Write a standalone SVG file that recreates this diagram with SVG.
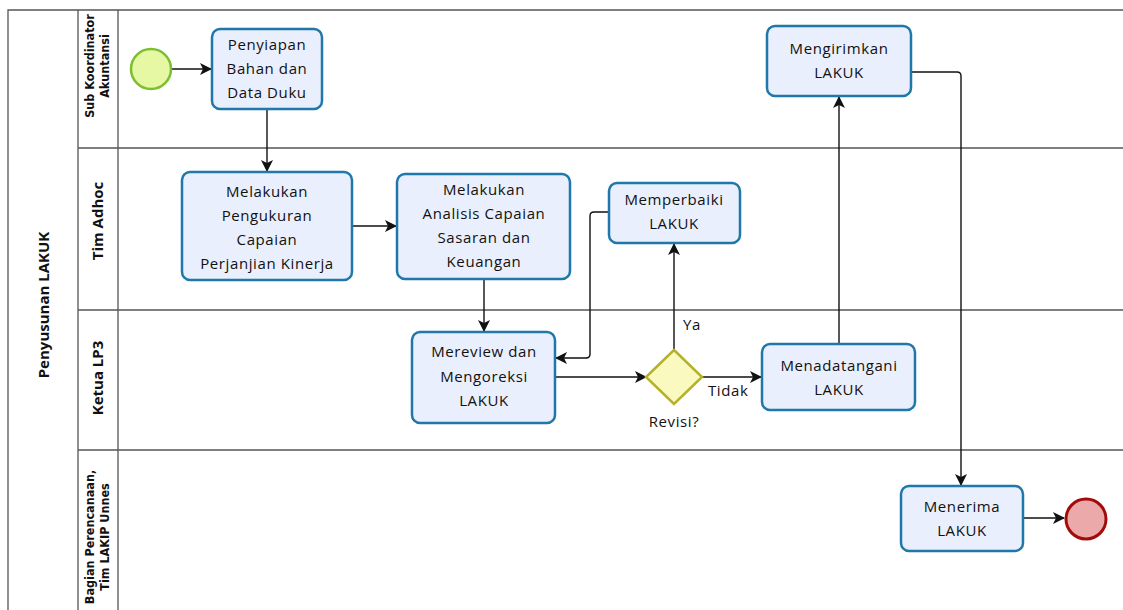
<svg xmlns="http://www.w3.org/2000/svg" width="1123" height="610" viewBox="0 0 1123 610">
<style>
.lane{fill:none;stroke:#555;stroke-width:1.3}
.task{fill:#eaeffd;stroke:#1f78a9;stroke-width:2.5}
.t{font-family:"Open Sans","Noto Sans",sans-serif;font-size:15px;letter-spacing:0.6px;fill:#111;text-anchor:middle}
.lbl{font-family:"Open Sans","Noto Sans",sans-serif;font-size:15px;letter-spacing:0.6px;fill:#111}
.lh{font-family:"DejaVu Sans Condensed","DejaVu Sans",sans-serif;font-stretch:condensed;font-weight:bold;font-size:12.5px;fill:#111;text-anchor:middle}
.ph{font-family:"Open Sans","Noto Sans",sans-serif;font-weight:bold;font-size:15px;fill:#111;text-anchor:middle}
.c{fill:none;stroke:#111;stroke-width:1.4}
</style>
<defs>
<marker id="arr" viewBox="0 0 12 12" refX="11" refY="6" markerWidth="12" markerHeight="12" markerUnits="userSpaceOnUse" orient="auto">
<path d="M0,0 L12,6 L0,12 L3,6 Z" fill="#111"/>
</marker>
</defs>
<rect width="1123" height="610" fill="#fff"/>
<g id="pool">
<path class="lane" d="M1123,10 H8 V612"/>
<path class="lane" d="M78,10 V612 M118,10 V612"/>
<path class="lane" d="M78,148 H1123 M78,310 H1123 M78,450 H1123"/>
<text class="ph" transform="translate(49,305) rotate(-90)">Penyusunan LAKUK</text>
<text class="lh" transform="translate(94,66) rotate(-90)">Sub Koordinator</text>
<text class="lh" transform="translate(109,66) rotate(-90)">Akuntansi</text>
<text class="ph" transform="translate(103,221) rotate(-90)">Tim Adhoc</text>
<text class="ph" transform="translate(103,378) rotate(-90)">Ketua LP3</text>
<text class="lh" transform="translate(94,537) rotate(-90)">Bagian Perencanaan,</text>
<text class="lh" transform="translate(109,537) rotate(-90)">Tim LAKIP Unnes</text>
</g>
<g id="connectors">
<path class="c" d="M172,69 H211" marker-end="url(#arr)"/>
<path class="c" d="M267,109 V171" marker-end="url(#arr)"/>
<path class="c" d="M352,226 H396" marker-end="url(#arr)"/>
<path class="c" d="M484,279 V331" marker-end="url(#arr)"/>
<path class="c" d="M555,377 H646" marker-end="url(#arr)"/>
<path class="c" d="M702,377 H761" marker-end="url(#arr)"/>
<path class="c" d="M674,350 V244" marker-end="url(#arr)"/>
<path class="c" d="M609,212 H594 Q590,212 590,216 V354 Q590,358 586,358 H556" marker-end="url(#arr)"/>
<path class="c" d="M839,344 V97" marker-end="url(#arr)"/>
<path class="c" d="M911,72 H957 Q961,72 961,76 V485" marker-end="url(#arr)"/>
<path class="c" d="M1023,518 H1064" marker-end="url(#arr)"/>
<text class="lbl" x="683" y="330">Ya</text>
<text class="lbl" x="708" y="396">Tidak</text>
</g>
<g id="start"><circle cx="151" cy="69" r="20" fill="#e6f8a3" stroke="#7cbf30" stroke-width="2.5"/></g>
<g id="n1"><rect class="task" x="212" y="29" width="110" height="80" rx="8"/>
<text class="t" x="267" y="50">Penyiapan</text><text class="t" x="267" y="74">Bahan dan</text><text class="t" x="267" y="98">Data Duku</text></g>
<g id="n2"><rect class="task" x="182" y="172" width="170" height="108" rx="8"/>
<text class="t" x="267" y="197">Melakukan</text><text class="t" x="267" y="221">Pengukuran</text><text class="t" x="267" y="245">Capaian</text><text class="t" x="267" y="269">Perjanjian Kinerja</text></g>
<g id="n3"><rect class="task" x="397" y="174" width="173" height="105" rx="8"/>
<text class="t" x="484" y="195">Melakukan</text><text class="t" x="484" y="219">Analisis Capaian</text><text class="t" x="484" y="243">Sasaran dan</text><text class="t" x="484" y="267">Keuangan</text></g>
<g id="n4"><rect class="task" x="609" y="183" width="131" height="60" rx="8"/>
<text class="t" x="674" y="205">Memperbaiki</text><text class="t" x="674" y="229">LAKUK</text></g>
<g id="n5"><rect class="task" x="412" y="332" width="143" height="91" rx="8"/>
<text class="t" x="484" y="357">Mereview dan</text><text class="t" x="484" y="382">Mengoreksi</text><text class="t" x="484" y="406">LAKUK</text></g>
<g id="gw"><path d="M674,350 L702,377 L674,404 L646,377 Z" fill="#fafac0" stroke="#b5b22a" stroke-width="2.5"/>
<text class="t" x="674" y="427">Revisi?</text></g>
<g id="n6"><rect class="task" x="762" y="344" width="153" height="66" rx="8"/>
<text class="t" x="839" y="371">Menadatangani</text><text class="t" x="839" y="395">LAKUK</text></g>
<g id="n7"><rect class="task" x="767" y="26" width="144" height="70" rx="8"/>
<text class="t" x="839" y="54">Mengirimkan</text><text class="t" x="839" y="78">LAKUK</text></g>
<g id="n8"><rect class="task" x="901" y="486" width="122" height="65" rx="8"/>
<text class="t" x="962" y="512">Menerima</text><text class="t" x="962" y="536">LAKUK</text></g>
<g id="end"><circle cx="1086" cy="519" r="20" fill="#eca9a9" stroke="#a30b0b" stroke-width="3"/></g>
</svg>
